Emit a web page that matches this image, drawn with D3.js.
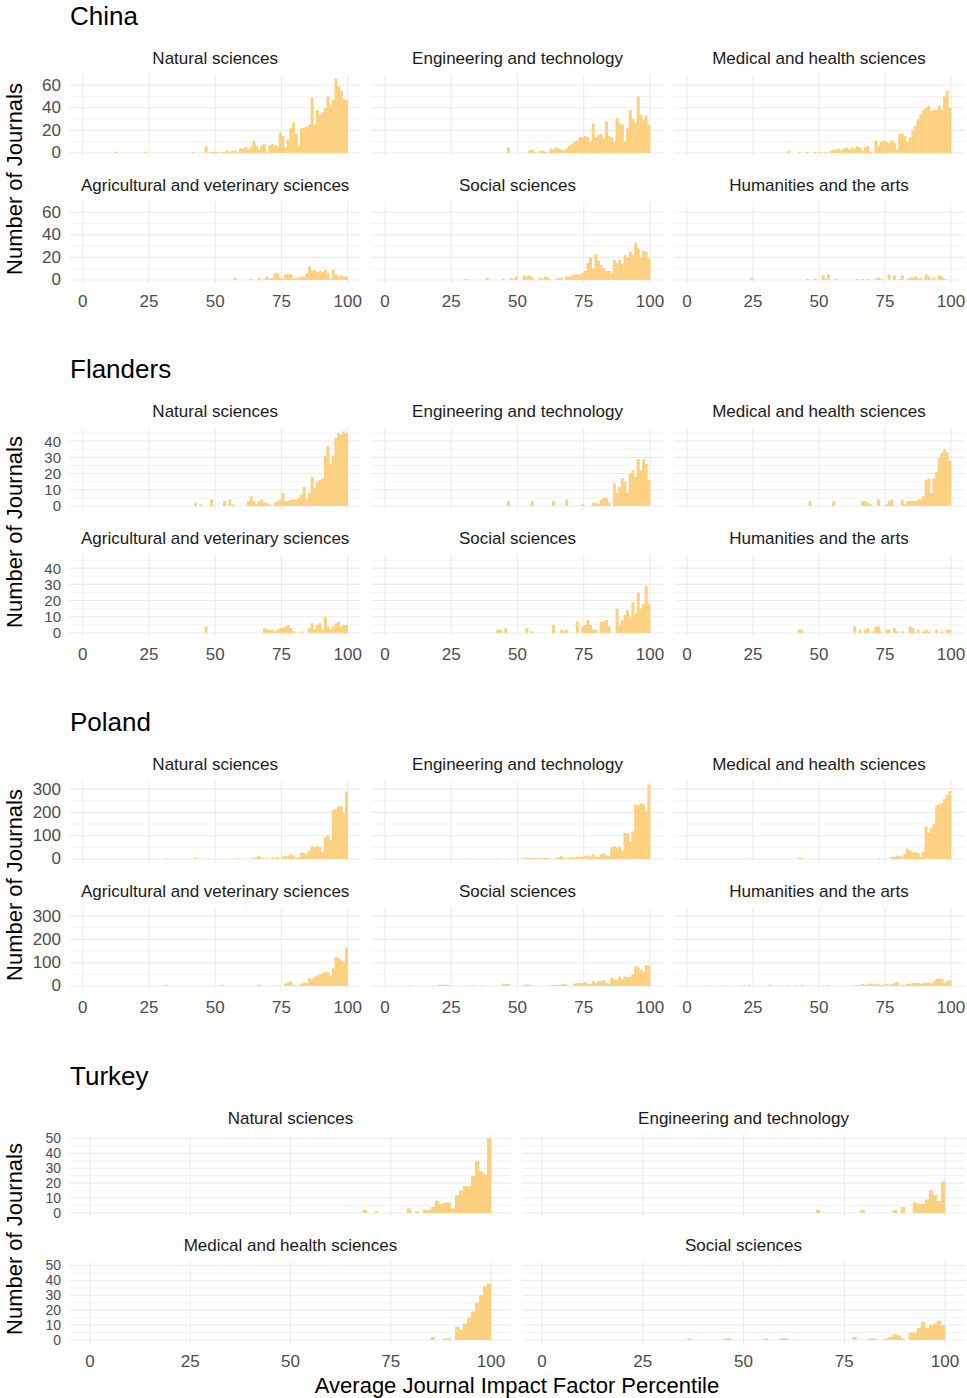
<!DOCTYPE html>
<html><head><meta charset="utf-8">
<script src="https://cdn.jsdelivr.net/npm/d3@7"></script>
<style>body{margin:0;background:#fff} text{font-family:"Liberation Sans",Arial,Helvetica,sans-serif}</style>
</head><body><svg id="c" width="967" height="1398"></svg>
<script>
// ---- DATA: histogram counts per 1-percentile bin. Each run = [startBin, count, count, ...] ----
const countries = ["China", "Flanders", "Poland", "Turkey"];
const fields6 = ["Natural sciences", "Engineering and technology", "Medical and health sciences",
                 "Agricultural and veterinary sciences", "Social sciences", "Humanities and the arts"];
const fieldsTurkey = ["Natural sciences", "Engineering and technology", "Medical and health sciences", "Social sciences"];
const xTicks = [0, 25, 50, 75, 100];
const yTicksChina = [0, 20, 40, 60];
const yTicksFlanders = [0, 10, 20, 30, 40];
const yTicksPoland = [0, 100, 200, 300];
const yTicksTurkey = [0, 10, 20, 30, 40, 50];

const china_ns = [[12,1],[23,1],[41,1,0,0,0,0,6,0,1,1,1,0,1,1,2,1,2,2,1,4],
  [60,4,5,3,5,11,6,3,7,8,1,7,8,7,6,18,15,5,12,22,27],
  [80,17,6,22,22,23,25,49,25,38,34,36,40,50,43,47,66,59,55,48,47]];
const china_et = [[46,5],[54,2,3,1,0,2,2,1,0],
  [62,4,3,5,4,3,2,4,6,8,10,11,14,14,15,14,10,26,14],
  [80,16,17,13,28,15,14,10,31,26,25,10,22,38,30,27,50,34,30,33,25]];
const china_med = [[38,2],[42,1],[45,1],[48,1],[50,1,0,1,0,2,3,3,4,2,4],
  [60,5,3,5,4,6,5,2,5,6,1,0,11,6,10,11,10,9,11,9,3],
  [80,17,17,15,10,14,20,24,30,34,38,40,42,37,38,38,42,38,50,55,40]];
const china_ag = [[57,2],[63,1],[66,2,0,1,3,1,2,6,6,2,1,5,5,5,1],
  [80,2,2,3,3,6,12,8,9,7,8,7,9,6,1,9,5,3,4,3,3]];
const china_soc = [[30,1],[38,2],[44,1],[47,2,1,3],[52,4,3,4,2],[58,2,1,3,2],[64,1,2,2,0,3,3],
  [70,4,5,5,5,6,8,15,20,10,23,17,13,10,8,8,6,18,15,18,14,22,20,25,22,33,28,20,26,25,19]];
const china_hum = [[24,2],[45,1],[48,1],[51,4,1,5],[56,1],[64,1,0,1,0,1],
  [71,1,2,1,0,0,5,0,4,0,1,4],[83,1,2,2,3,1,2,0,5,3,1,2,0,4,3,1]];

const flanders_ns = [[42,2,0,1],[48,4],[53,3,0,4,1],
  [62,3,6,3,1,3,4,2,2,1,0,2,3,4,8,3,3,4,4],
  [80,4,5,7,12,4,8,18,11,15,16,17,31,37,26,31,42,45,44,46,45]];
const flanders_et = [[46,3],[55,3],[63,3],[68,4],[74,1],
  [78,2,2,1,4,5,5,2,0,14,8,12,17,15,8,20,22,18,29,22,29,26,16]];
const flanders_med = [[46,3],[55,3],[66,3,3,2,1],[72,4],[75,1,3,4],
  [81,4,1,3,3,3,3,4,4,6,16,17,8,17,21,30,33,35,33,28]];
const flanders_ag = [[46,4],[68,3,2,2,2,1,2,3,3,4,5,3,1],[82,1],
  [85,3,6,2,5,6,2,10,4,2,4,6,7,4,5,5]];
const flanders_soc = [[42,2,2,0,3],[53,3,0,1],[63,5],[66,2,1,2],
  [72,7,0,4,5,8,5,2,2,0,7,7,8,4,0,0,15,5,8,11,14,10,19,12,25,15,18,29,18]];
const flanders_hum = [[42,2,2],[63,4,0,2,0,2,3,0,1,4,4,1,0,2,2,0,3,1,0,1],
  [84,4,3,0,2,0,1,2,1,0,0,2,0,1,0,2,2]];

const poland_ns = [[31,3],[42,5],[47,2],[57,2,2,2],
  [63,3,3,8,14,5,2,3,0,6,5,7,0,10,12,15,20,15],
  [80,5,8,27,25,20,35,56,50,55,52,30,95,103,80,210,215,225,228,200,290]];
const poland_et = [[20,2],[31,2],[42,3],[47,1],[52,5,5,4,3,5,3,2,3,5,4],
  [64,5,8,12,5,3,5,8,6,10,8,10,12,15,10,20,10,8,20,25,15,12,50,55,50,53,35,113,110,75,118,234,230,240,235,205,320]];
const poland_med = [[23,2],[42,5,3],[72,3],
  [77,8,10,15,12,10,20,45,35,28,30,25,10,30,140,113,133,150,230,235,240,257,275,292]];
const poland_ag = [[31,5],[52,5],[66,5],[72,3],
  [76,10,15,20,5,3,0,8,15,12,35,30,40,45,50,55,60,58,45,75,125,120,110,105,165]];
const poland_soc = [[9,2],[20,5,5,4,5],[31,2,0,3,0,0,2],[44,10,8,8],[52,5,6,4],[62,3,4,4,5,6,8,5],
  [71,10,12,13,12,15,10,8,22,12,20,22,25,12,8,36,28,28,40,30,40,38,40,50,85,80,70,60,90,88]];
const poland_hum = [[8,2],[13,1],[21,3,0,5],[31,5],[35,3],[38,3],[41,3],[43,6],[45,3],[51,2,0,4],
  [63,3,3,5,8,5,6,10,8,9,7,5,6,8,5,8,12,18,3,6,4,10,8,12,13,14,8,13,13,15,12,20,30,32,30,12,20,25]];

const turkey_ns = [[68,2],[71,1],[79,3],[81,1],[83,2,2,4,8,6,7,7,3,12,15,18,18,25,35,28,26,50]];
const turkey_et = [[68,2],[79,2],[87,2],[89,4],[92,7,6,6,9,15,12,8,21]];
const turkey_med = [[85,2],[88,1,1],[91,9,7,11,15,19,25,30,36,38]];
const turkey_soc = [[36,1],[45,1,1],[55,1],[59,1,1],[77,2],[81,1,1],[85,1,2,4,3,1,0,5,5,8,12,8,10,11,13,10]];

// ---- assembly ----
const countryPanels = [
  {name: "China", fields: fields6, runs: [china_ns, china_et, china_med, china_ag, china_soc, china_hum], yTicks: yTicksChina, yFont: 17},
  {name: "Flanders", fields: fields6, runs: [flanders_ns, flanders_et, flanders_med, flanders_ag, flanders_soc, flanders_hum], yTicks: yTicksFlanders, yFont: 15},
  {name: "Poland", fields: fields6, runs: [poland_ns, poland_et, poland_med, poland_ag, poland_soc, poland_hum], yTicks: yTicksPoland, yFont: 17},
  {name: "Turkey", fields: fieldsTurkey, runs: [turkey_ns, turkey_et, turkey_med, turkey_soc], yTicks: yTicksTurkey, yFont: 14}
];

function expand(runs) {
  const c = new Array(100).fill(0);
  runs.forEach(r => r.slice(1).forEach((v, k) => { if (r[0] + k < 100) c[r[0] + k] = v; }));
  return c;
}

// ---- layout ----
const svg = d3.select("#c");
const blockTop = [0, 353, 706, 1060];
const panelH = 82;
const rowBottom = [156.7, 283.7];
const stripY = [58, 185];
const fill = "#fdd07f";
const grid = "#ebebeb";

countryPanels.forEach((cp, ci) => {
  const oy = blockTop[ci];
  const ncol = cp.fields.length === 6 ? 3 : 2;
  const zeroX = ncol === 3 ? [82.7, 385, 687] : [90, 542];
  const hundredX = ncol === 3 ? [347.7, 650, 951] : [491, 945];
  const counts = cp.runs.map(expand);
  const M = d3.max(counts, c => d3.max(c));
  const g = svg.append("g");

  // country title
  g.append("text").attr("x", 70).attr("y", oy + 16).attr("dominant-baseline", "central")
    .attr("font-size", 26).attr("fill", "#000").text(cp.name);

  // y axis title
  g.append("text").attr("transform", `translate(14,${oy + 179}) rotate(-90)`)
    .attr("text-anchor", "middle").attr("dominant-baseline", "central")
    .attr("font-size", 22).attr("fill", "#000").text("Number of Journals");

  const step = cp.yTicks[1] - cp.yTicks[0];
  cp.fields.forEach((field, fi) => {
    const row = Math.floor(fi / ncol), col = fi % ncol;
    const u = (hundredX[col] - zeroX[col]) / 100;
    const x = d3.scaleLinear().domain([-5, 105]).range([zeroX[col] - 5 * u, zeroX[col] + 105 * u]);
    const yb = oy + rowBottom[row];
    const y = d3.scaleLinear().domain([-0.05 * M, 1.05 * M]).range([yb, yb - panelH]);
    const pg = g.append("g");
    const [x0, x1] = x.range();

    // minor horizontal grid
    const minors = [];
    for (let v = step / 2; v <= 1.05 * M; v += step) minors.push(v);
    pg.selectAll(".mn").data(minors).join("line")
      .attr("x1", x0).attr("x2", x1).attr("y1", d => y(d)).attr("y2", d => y(d))
      .attr("stroke", grid).attr("stroke-width", 0.6);
    // major horizontal grid
    pg.selectAll(".mj").data(cp.yTicks).join("line")
      .attr("x1", x0).attr("x2", x1).attr("y1", d => y(d)).attr("y2", d => y(d))
      .attr("stroke", grid).attr("stroke-width", 1.1);
    // vertical grid
    pg.selectAll(".vg").data(xTicks).join("line")
      .attr("x1", d => x(d)).attr("x2", d => x(d)).attr("y1", y.range()[0]).attr("y2", y.range()[1])
      .attr("stroke", grid).attr("stroke-width", 1.1);

    // bars
    const bars = counts[fi].map((c, i) => ({bin: i, c})).filter(d => d.c > 0);
    pg.selectAll(".bar").data(bars).join("rect")
      .attr("x", d => x(d.bin)).attr("width", d => x(d.bin + 1) - x(d.bin) + 0.35)
      .attr("y", d => y(d.c)).attr("height", d => y(0) - y(d.c))
      .attr("fill", fill);

    // strip title
    pg.append("text").attr("x", (x0 + x1) / 2).attr("y", oy + stripY[row])
      .attr("text-anchor", "middle").attr("dominant-baseline", "central")
      .attr("font-size", 17).attr("fill", "#1a1a1a").text(field);

    // y tick labels
    if (col === 0) {
      pg.selectAll(".yl").data(cp.yTicks).join("text")
        .attr("x", 61).attr("y", d => y(d)).attr("text-anchor", "end").attr("dominant-baseline", "central")
        .attr("font-size", cp.yFont).attr("fill", "#4d4d4d").text(d => d);
    }
    // x tick labels
    if (row === 1) {
      pg.selectAll(".xl").data(xTicks).join("text")
        .attr("x", d => x(d)).attr("y", oy + 301).attr("text-anchor", "middle").attr("dominant-baseline", "central")
        .attr("font-size", 17).attr("fill", "#4d4d4d").text(d => d);
    }
  });
});

// x axis title
svg.append("text").attr("x", 517).attr("y", 1385).attr("text-anchor", "middle").attr("dominant-baseline", "central")
  .attr("font-size", 22).attr("fill", "#000").text("Average Journal Impact Factor Percentile");
</script></body></html>
